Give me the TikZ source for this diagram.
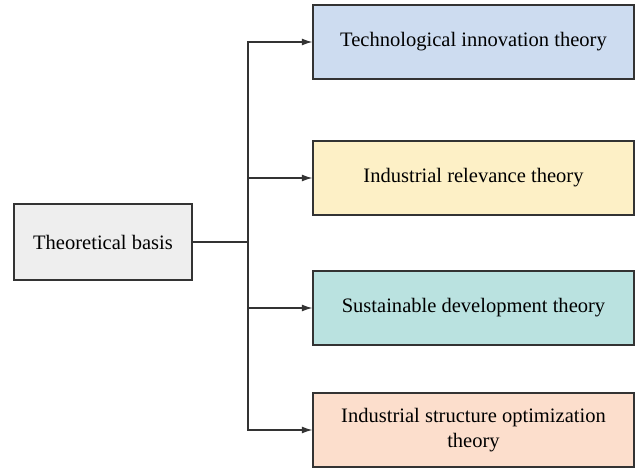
\documentclass[tikz,border=0pt]{standalone}
\usepackage{fontspec}
\setmainfont{Liberation Serif}
\usetikzlibrary{positioning,arrows.meta}
\definecolor{boxblue}{RGB}{205,220,240}
\definecolor{boxyellow}{RGB}{253,240,198}
\definecolor{boxteal}{RGB}{186,226,224}
\definecolor{boxpeach}{RGB}{252,222,204}
\definecolor{boxgray}{RGB}{238,238,238}
\definecolor{edge}{RGB}{51,51,51}
\tikzset{
  theory/.style={draw=edge,line width=0.8pt,minimum width=8.025cm,minimum height=1.85cm,
    text width=7.6cm,align=flush center,font=\fontsize{14.6}{17.5}\selectfont},
  link/.style={draw=edge,line width=0.8pt,-{Latex[length=2.6mm,width=1.7mm]}}
}
\begin{document}
\begin{tikzpicture}[x=0.025cm,y=-0.025cm]
       \useasboundingbox (0,0) rectangle (640,468);
       \node [draw=edge,line width=0.8pt,fill=boxgray,minimum width=4.45cm,minimum height=1.9cm,
              font=\fontsize{14.6}{17.5}\selectfont] (basis) at (103,242) {Theoretical basis};
       \node [theory,fill=boxblue] (tech) at (473.5,42) {Technological innovation theory};
       \node [theory,fill=boxyellow] (rel) at (473.5,178) {Industrial relevance theory};
       \node [theory,fill=boxteal] (sus) at (473.5,308) {Sustainable development theory};
       \node [theory,fill=boxpeach] (opt) at (473.5,430) {Industrial structure optimization theory};
       \coordinate (split) at (248,242);
       \draw [draw=edge,line width=0.8pt] (basis) to (split);
       \draw [link] (split) |- (tech.west);
       \draw [link] (split) |- (rel.west);
       \draw [link] (split) |- (sus.west);
       \draw [link] (split) |- (opt.west);
     \end{tikzpicture}
\end{document}
